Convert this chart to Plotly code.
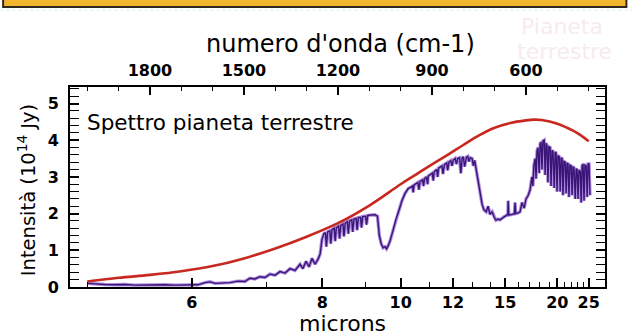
import plotly.graph_objects as go

# Blackbody envelope (red): wavenumber (cm-1) vs intensity (10^14 Jy)
bb_wn = [2000, 1900, 1800, 1700, 1600, 1500, 1400, 1300, 1200, 1100, 1000, 950, 900,
         850, 800, 750, 700, 650, 600, 575, 550, 500, 450, 425, 400]
bb_int = [0.15, 0.25, 0.33, 0.43, 0.57, 0.78, 1.05, 1.37, 1.74, 2.22, 2.80, 3.07, 3.34,
          3.60, 3.87, 4.13, 4.34, 4.47, 4.54, 4.56, 4.55, 4.45, 4.26, 4.13, 3.97]

# Earth spectrum (purple): wavenumber (cm-1) vs intensity (10^14 Jy)
spec_wn = [
    2000, 1976, 1944, 1912, 1880, 1848, 1816, 1784, 1752, 1720,
    1688, 1666, 1647, 1624, 1608, 1592, 1570, 1545, 1519, 1497,
    1481, 1465, 1449, 1433, 1417, 1401, 1385, 1369, 1353, 1337,
    1321, 1312, 1302, 1292, 1283, 1273, 1264, 1257,
    1251, 1245, 1240, 1237, 1233, 1226, 1223, 1219, 1212, 1209,
    1205, 1198, 1195, 1191, 1184, 1181, 1177, 1170, 1167, 1163,
    1156, 1153, 1149, 1142, 1139, 1135, 1128, 1125, 1121, 1112,
    1109, 1105, 1095, 1082, 1074,
    1068, 1062, 1056, 1050, 1045, 1040, 1034, 1024, 1015, 1005,
    996, 986, 976, 967, 962, 960, 957, 950, 945, 942,
    938, 930, 927, 924, 918, 914, 912, 906, 899, 896,
    893, 885, 882, 879, 872, 868, 865, 860, 853, 850,
    846, 840, 836, 832, 826, 822, 818, 812, 808, 804,
    800, 796, 790, 786, 782, 778, 772, 768, 764, 760,
    753, 747, 740, 734, 727, 721, 715, 708, 702, 696,
    689, 683, 673, 664, 658, 657, 655, 645, 637, 635,
    633, 625, 619, 613, 606,
    600, 593, 587, 583, 581, 578, 575, 571, 568, 565,
    562, 558, 555, 552, 549, 546, 542, 539, 536, 533,
    530, 527, 523, 520, 517, 514, 510, 507, 504, 501,
    498, 494, 491, 488, 485, 482, 479, 475, 472, 469,
    466, 463, 460, 456, 453, 450, 447, 443, 440, 437,
    434, 431, 427, 424, 421, 418, 415, 412, 408, 405,
    402, 399, 396]
spec_int = [
    0.10, 0.08, 0.07, 0.06, 0.07, 0.05, 0.06, 0.05, 0.06, 0.05,
    0.05, 0.05, 0.06, 0.12, 0.14, 0.10, 0.10, 0.12, 0.16, 0.15,
    0.24, 0.22, 0.28, 0.26, 0.35, 0.32, 0.42, 0.38, 0.50, 0.45,
    0.62, 0.50, 0.70, 0.55, 0.78, 0.62, 0.75, 0.90,
    1.30, 1.45, 1.48, 1.10, 1.50, 1.53, 1.18, 1.56, 1.60, 1.25,
    1.62, 1.66, 1.32, 1.68, 1.72, 1.38, 1.74, 1.78, 1.45, 1.80,
    1.83, 1.50, 1.85, 1.87, 1.55, 1.89, 1.90, 1.62, 1.92, 1.93,
    1.70, 1.95, 1.96, 1.97, 1.93,
    1.40, 1.18, 1.07, 1.10, 1.04, 1.12, 1.25, 1.55, 1.85, 2.10,
    2.35, 2.55, 2.68, 2.72, 2.75, 2.58, 2.78, 2.82, 2.85, 2.65,
    2.88, 2.92, 2.75, 2.95, 3.00, 2.80, 3.02, 3.06, 3.10, 2.90,
    3.14, 3.20, 3.00, 3.24, 3.28, 3.30, 3.08, 3.34, 3.38, 3.18,
    3.40, 3.44, 3.30, 3.46, 3.50, 3.35, 3.50, 3.52, 3.10, 3.50,
    3.55, 3.28, 3.54, 3.56, 3.42, 3.52, 3.50, 3.30, 3.45, 3.25,
    2.80, 2.50, 2.25, 2.10, 2.05, 2.20, 1.98, 2.05, 1.90, 1.82,
    1.85, 1.83, 1.90, 1.95, 1.98, 2.35, 1.96, 1.98, 2.00, 2.30,
    2.00, 2.02, 2.05, 2.30, 2.15,
    2.40, 2.50, 2.65, 2.85, 3.00, 2.75, 3.30, 3.50, 2.95, 3.70,
    3.80, 3.10, 3.90, 3.95, 3.20, 3.98, 4.00, 3.05, 3.92, 3.85,
    2.85, 3.82, 3.80, 2.75, 3.72, 3.70, 2.70, 3.68, 3.65, 2.60,
    3.58, 3.55, 2.60, 3.52, 3.50, 2.50, 3.42, 3.40, 2.55, 3.38,
    3.35, 2.45, 3.32, 3.30, 2.50, 3.28, 3.25, 2.40, 3.22, 3.20,
    2.40, 3.18, 3.15, 2.30, 3.30, 3.35, 2.35, 3.32, 3.30, 2.45,
    3.35, 3.35, 2.50]
assert len(spec_wn) == len(spec_int)

# Axis ticks
micron_labels = [6, 8, 10, 12, 15, 20, 25]
micron_minor = [5, 7, 9, 11, 13, 14, 16, 17, 18, 19, 21, 22, 23, 24]
wn_labels = [1800, 1500, 1200, 900, 600]
wn_minor = [2000, 1900, 1700, 1600, 1400, 1300, 1100, 1000, 800, 700, 500, 400]
y_labels = [0, 1, 2, 3, 4, 5]

X_RANGE = [2055, 348]
Y_RANGE = [0, 5.45]
FONT = "DejaVu Sans"

fig = go.Figure()
fig.add_trace(go.Scatter(x=spec_wn, y=spec_int, mode="lines",
                         line=dict(color="rgba(160,120,215,0.85)", width=3.4),
                         hoverinfo="skip", showlegend=False))
fig.add_trace(go.Scatter(x=spec_wn, y=spec_int, mode="lines",
                         line=dict(color="#3a1578", width=1.4),
                         showlegend=False))
fig.add_trace(go.Scatter(x=bb_wn, y=bb_int, mode="lines", line_shape="spline",
                         line=dict(color="#c8281f", width=2.6),
                         showlegend=False))
fig.add_trace(go.Scatter(x=[bb_wn[0]], y=[bb_int[0]], xaxis="x2", mode="none",
                         hoverinfo="skip", showlegend=False))

tickfont = dict(family=FONT, size=16, color="black", weight="bold")

fig.update_layout(
    width=634, height=335,
    margin=dict(l=70, r=29, t=87, b=48),
    paper_bgcolor="white", plot_bgcolor="white",
    xaxis=dict(
        range=X_RANGE, showgrid=False, zeroline=False,
        showline=True, linecolor="black", linewidth=2, mirror=False,
        tickmode="array", tickvals=[1e4 / m for m in micron_labels],
        ticktext=[str(m) for m in micron_labels],
        ticks="inside", ticklen=9, tickwidth=1.6, tickcolor="black",
        minor=dict(tickmode="array", tickvals=[1e4 / m for m in micron_minor],
                   ticks="inside", ticklen=5, tickwidth=1.4, tickcolor="black"),
        tickfont=tickfont, ticklabelstandoff=0,
    ),
    xaxis2=dict(
        range=X_RANGE, overlaying="x", side="top", anchor="y",
        showgrid=False, zeroline=False,
        showline=True, linecolor="black", linewidth=2,
        tickmode="array", tickvals=wn_labels, ticktext=[str(v) for v in wn_labels],
        ticks="inside", ticklen=8, tickwidth=1.6, tickcolor="black",
        minor=dict(tickmode="array", tickvals=wn_minor,
                   ticks="inside", ticklen=4, tickwidth=1.4, tickcolor="black"),
        tickfont=tickfont, ticklabelstandoff=3,
    ),
    yaxis=dict(
        range=Y_RANGE, showgrid=False, zeroline=False,
        showline=True, linecolor="black", linewidth=2, mirror="allticks",
        tickmode="array", tickvals=y_labels, ticktext=[str(v) for v in y_labels],
        ticks="inside", ticklen=9, tickwidth=1.6, tickcolor="black",
        minor=dict(dtick=0.2, ticks="inside", ticklen=5, tickwidth=1.4,
                   tickcolor="black"),
        tickfont=tickfont, ticklabelstandoff=6,
    ),
    annotations=[
        dict(text="numero d'onda (cm-1)", xref="paper", yref="paper",
             x=0.505, y=1.215, xanchor="center", yanchor="middle", showarrow=False,
             font=dict(family=FONT, size=24, color="black")),
        dict(text="microns", xref="paper", yref="paper",
             x=0.51, y=-0.182, xanchor="center", yanchor="middle", showarrow=False,
             font=dict(family=FONT, size=22, color="black")),
        dict(text="Intensità (10<sup>14</sup> Jy)", xref="paper", yref="paper",
             x=-0.08, y=0.485, xanchor="center", yanchor="middle", showarrow=False,
             textangle=-90, font=dict(family=FONT, size=19.5, color="black")),
        dict(text="Spettro pianeta terrestre", xref="paper", yref="paper",
             x=0.028, y=0.825, xanchor="left", yanchor="middle", showarrow=False,
             font=dict(family=FONT, size=21.5, color="black")),
        dict(text="Pianeta", xref="paper", yref="paper",
             x=0.92, y=1.30, xanchor="center", yanchor="middle", showarrow=False,
             font=dict(family=FONT, size=22, color="#f7ebee")),
        dict(text="terrestre", xref="paper", yref="paper",
             x=0.925, y=1.175, xanchor="center", yanchor="middle", showarrow=False,
             font=dict(family=FONT, size=22, color="#f7ebee")),
    ],
    shapes=[
        dict(type="rect", xref="paper", yref="paper",
             ysizemode="pixel", yanchor=1, y0=80, y1=100,
             x0=-0.125, x1=1.04,
             fillcolor="#f2b62e", line=dict(color="#2e2a20", width=2)),
        dict(type="line", xref="paper", yref="paper",
             ysizemode="pixel", yanchor=1, y0=77, y1=77,
             x0=-0.13, x1=1.05,
             line=dict(color="#d3ecee", width=1, dash="dot")),
    ],
)

fig.write_html("out.html")
